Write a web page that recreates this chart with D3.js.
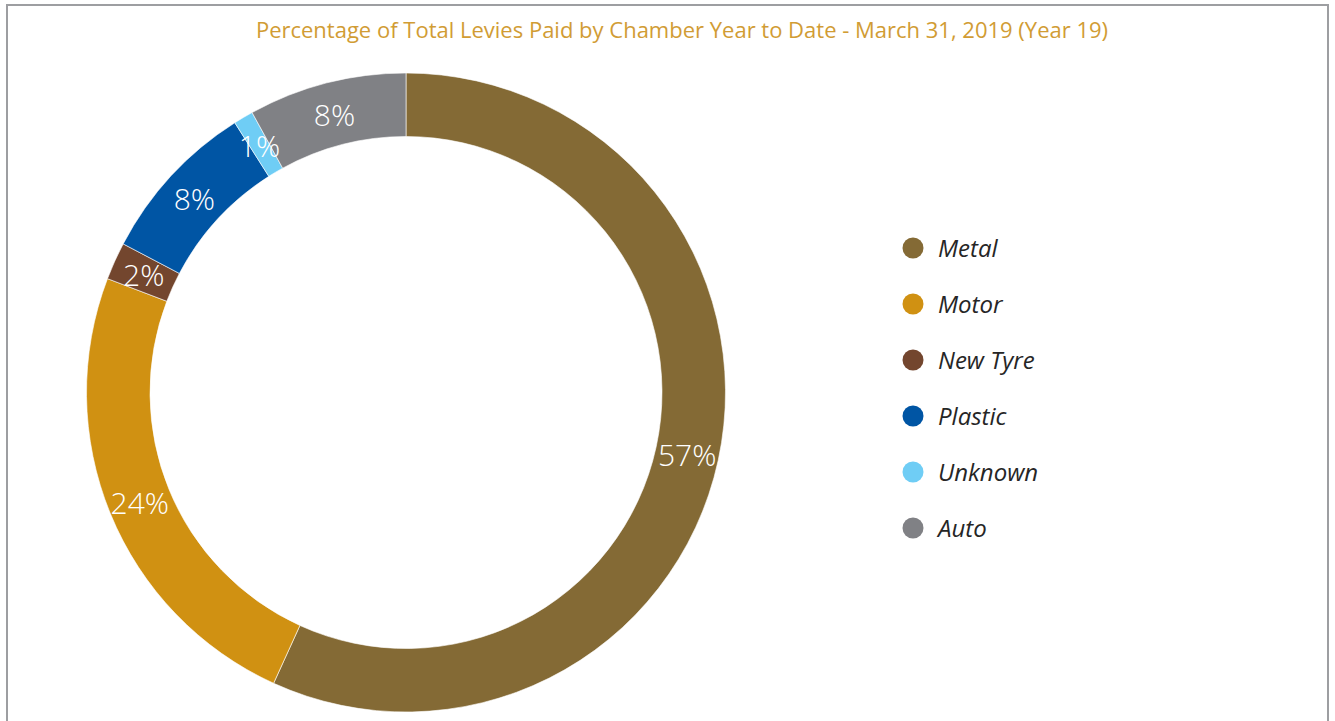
<!DOCTYPE html>
<html><head><meta charset="utf-8">
<script src="https://cdn.jsdelivr.net/npm/d3@7"></script>
<style>html,body{margin:0;padding:0;background:#fff;overflow:hidden}</style>
</head><body>
<script>
const title = "Percentage of Total Levies Paid by Chamber Year to Date - March 31, 2019 (Year 19)";
const categories = ["Metal","Motor","New Tyre","Plastic","Unknown","Auto"];
const values = [56.8, 24.0, 1.9, 8.3, 1.0, 8.0];
const colors = ["#846a35","#d09112","#73462e","#0055a4","#6fcdf5","#808185"];

const W = 1335, H = 721;
const svg = d3.select("body").append("svg").attr("width", W).attr("height", H);

svg.append("rect").attr("x",7).attr("y",5).attr("width",1321).attr("height",H+20)
  .attr("fill","#fff").attr("stroke","#9d9ea1").attr("stroke-width",2);

svg.append("text").attr("x",682).attr("y",38).attr("text-anchor","middle")
  .attr("font-family","'Liberation Sans Narrow', 'Open Sans', sans-serif")
  .attr("font-size",22).attr("fill","#d19c34").text(title);

const cx = 406, cy = 392.5, R = 319.5, r = 256;
const data = categories.map((c,i)=>({cat:c, value:values[i], color:colors[i]}));
const pie = d3.pie().value(d=>d.value).sort(null);
const arc = d3.arc().innerRadius(r).outerRadius(R);
const g = svg.append("g").attr("transform",`translate(${cx},${cy})`);
const arcs = pie(data);
g.selectAll("path").data(arcs).join("path")
  .attr("d",arc).attr("fill",d=>d.data.color)
  .attr("stroke","#fff").attr("stroke-width",0.6);
g.selectAll("text.lbl").data(arcs).join("text").attr("class","lbl")
  .attr("transform",d=>`translate(${arc.centroid(d)})`)
  .attr("text-anchor","middle").attr("dy","0.4em")
  .attr("font-family","'Open Sans', 'Noto Sans', sans-serif")
  .attr("font-weight",300)
  .attr("font-size",30).attr("fill","#fff")
  .text(d=>Math.round(d.data.value)+"%");

const color = d3.scaleOrdinal().domain(categories).range(colors);
const ly = d3.scalePoint().domain(categories).range([248,528]);
const leg = svg.append("g");
const items = leg.selectAll("g").data(categories).join("g")
  .attr("transform",d=>`translate(913,${ly(d)})`);
items.append("circle").attr("r",10.5).attr("fill",d=>color(d));
items.append("text").attr("x",25).attr("dy","0.36em")
  .attr("font-family","'Open Sans', 'Noto Sans', sans-serif")
  .attr("font-style","italic").attr("font-size",24).attr("fill","#262626")
  .text(d=>d);
</script>
</body></html>
